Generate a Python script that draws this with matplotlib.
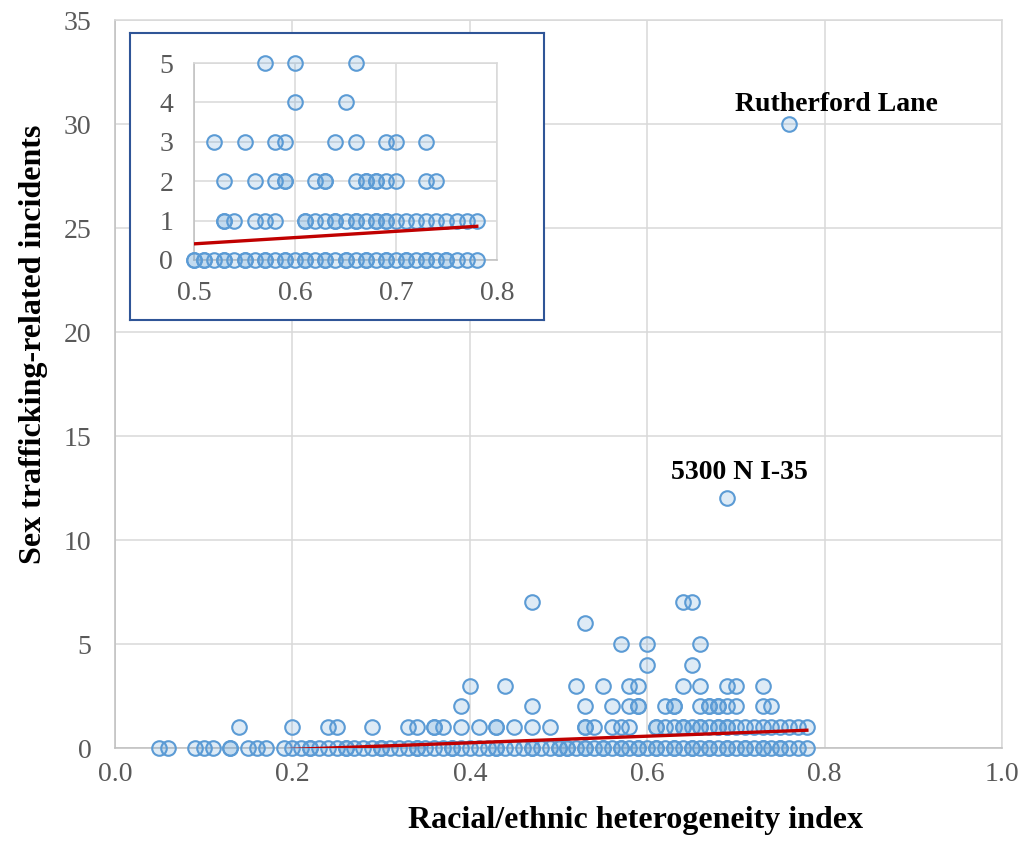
import numpy as np
import matplotlib
matplotlib.use('Agg')
import matplotlib.pyplot as plt

plt.rcParams['font.family'] = ['Liberation Serif', 'DejaVu Serif']

# Heterogeneity index values of the points, grouped by number of incidents
x_at_0 = [0.05, 0.06, 0.09, 0.10, 0.11, 0.13, 0.13, 0.15, 0.16, 0.17, 0.19, 0.20,
          0.21, 0.22, 0.22, 0.23, 0.24, 0.25, 0.26, 0.26, 0.27, 0.28, 0.29, 0.30,
          0.30, 0.31, 0.32, 0.33, 0.34, 0.34, 0.35, 0.36, 0.37, 0.38, 0.38, 0.39,
          0.40, 0.41, 0.42, 0.43, 0.43, 0.44, 0.45, 0.46, 0.47, 0.47, 0.48, 0.49,
          0.50, 0.50, 0.51, 0.51, 0.52, 0.53, 0.53, 0.54, 0.55, 0.55, 0.56, 0.57,
          0.57, 0.58, 0.59, 0.59, 0.60, 0.61, 0.61, 0.62, 0.63, 0.63, 0.64, 0.65,
          0.65, 0.66, 0.67, 0.67, 0.68, 0.69, 0.69, 0.70, 0.71, 0.71, 0.72, 0.73,
          0.73, 0.74, 0.75, 0.75, 0.76, 0.77, 0.78]
x_at_1 = [0.14, 0.20, 0.24, 0.25, 0.29, 0.33, 0.34, 0.36, 0.36, 0.37, 0.39, 0.41,
          0.43, 0.43, 0.45, 0.47, 0.49, 0.53, 0.53, 0.54, 0.56, 0.57, 0.58, 0.61,
          0.61, 0.62, 0.63, 0.64, 0.64, 0.65, 0.66, 0.66, 0.67, 0.68, 0.68, 0.69,
          0.69, 0.70, 0.71, 0.72, 0.73, 0.74, 0.75, 0.76, 0.77, 0.78]
x_at_2 = [0.39, 0.47, 0.53, 0.56, 0.58, 0.59, 0.59, 0.62, 0.63, 0.63, 0.66, 0.67,
          0.67, 0.68, 0.68, 0.69, 0.70, 0.73, 0.74]
x_at_3 = [0.40, 0.44, 0.52, 0.55, 0.58, 0.59, 0.64, 0.66, 0.69, 0.70, 0.73]
x_at_4 = [0.60, 0.65]
x_at_5 = [0.57, 0.60, 0.66]
x_at_6 = [0.53]
x_at_7 = [0.47, 0.64, 0.65]
x_at_12 = [0.69]
x_at_30 = [0.76]

groups = {0: x_at_0, 1: x_at_1, 2: x_at_2, 3: x_at_3, 4: x_at_4, 5: x_at_5,
          6: x_at_6, 7: x_at_7, 12: x_at_12, 30: x_at_30}
hx = np.array([v for k in groups for v in groups[k]])
inc = np.array([k for k in groups for v in groups[k]])

# linear trend
trend_slope = 1.59
trend_intercept = -0.385

outliers = [("Rutherford Lane", 0.76, 30, (34, 14)),
            ("5300 N I-35", 0.69, 12, (9, 19))]

blue = '#5B9BD5'
face = (0.357, 0.608, 0.835, 0.2)
grid_c = '#D9D9D9'
tick_c = '#595959'

fig = plt.figure(figsize=(10.26, 8.48), dpi=100)
ax = fig.add_axes([0.1121, 0.1179, 0.8645, 0.8585])


def style(a):
    a.grid(True, color=grid_c, linewidth=1.1)
    a.set_axisbelow(True)
    for s in a.spines.values():
        s.set_color(grid_c)
        s.set_linewidth(1.1)
    a.spines['left'].set_color('#BFBFBF')
    a.spines['bottom'].set_color('#BFBFBF')
    a.tick_params(length=0, colors=tick_c, labelsize=20)


style(ax)
ax.scatter(hx, inc, s=110, facecolors=face, edgecolors=blue, linewidths=1.5,
           zorder=3, clip_on=False)
tx = np.array([hx.min(), hx.max()])
ax.plot(tx, trend_slope * tx + trend_intercept, color='#C00000', lw=2.4, zorder=4)
ax.set_xlim(0, 1)
ax.set_ylim(0, 35)
ax.set_xticks([0, 0.2, 0.4, 0.6, 0.8, 1.0])
ax.set_xticklabels(['%.1f' % t for t in [0, 0.2, 0.4, 0.6, 0.8, 1.0]])
ax.set_yticks(range(0, 36, 5))
ax.tick_params(axis='x', pad=10)
ax.tick_params(axis='y', pad=17)
ax.set_xlabel('Racial/ethnic heterogeneity index', fontsize=23, fontweight='bold')
ax.set_ylabel('Sex trafficking-related incidents', fontsize=23, fontweight='bold')
ax.xaxis.set_label_coords(0.587, -0.08)
ax.yaxis.set_label_coords(-0.075, 0.554)
for name, px, py, off in outliers:
    ax.annotate(name, (px, py), xytext=off, textcoords='offset points',
                ha='center', va='center', fontsize=20, fontweight='bold')

# inset frame
frame = fig.add_axes([0.1267, 0.6226, 0.4035, 0.3384])
frame.set_xticks([])
frame.set_yticks([])
frame.set_facecolor('white')
for s in frame.spines.values():
    s.set_color('#2F5597')
    s.set_linewidth(1.5)

ins = fig.add_axes([0.1891, 0.6934, 0.2953, 0.2323])
style(ins)
keep = (hx >= 0.5) & (hx <= 0.8) & (inc <= 5)
ins.scatter(hx[keep], inc[keep], s=110, facecolors=face, edgecolors=blue,
            linewidths=1.5, zorder=3, clip_on=False)
ix = np.array([0.5, hx.max()])
ins.plot(ix, trend_slope * ix + trend_intercept, color='#C00000', lw=2.4, zorder=4)
ins.set_xlim(0.5, 0.8)
ins.set_ylim(0, 5)
ins.set_xticks([0.5, 0.6, 0.7, 0.8])
ins.set_yticks(range(0, 6))
ins.tick_params(axis='both', pad=15)

fig.savefig('out.png', dpi=100)
